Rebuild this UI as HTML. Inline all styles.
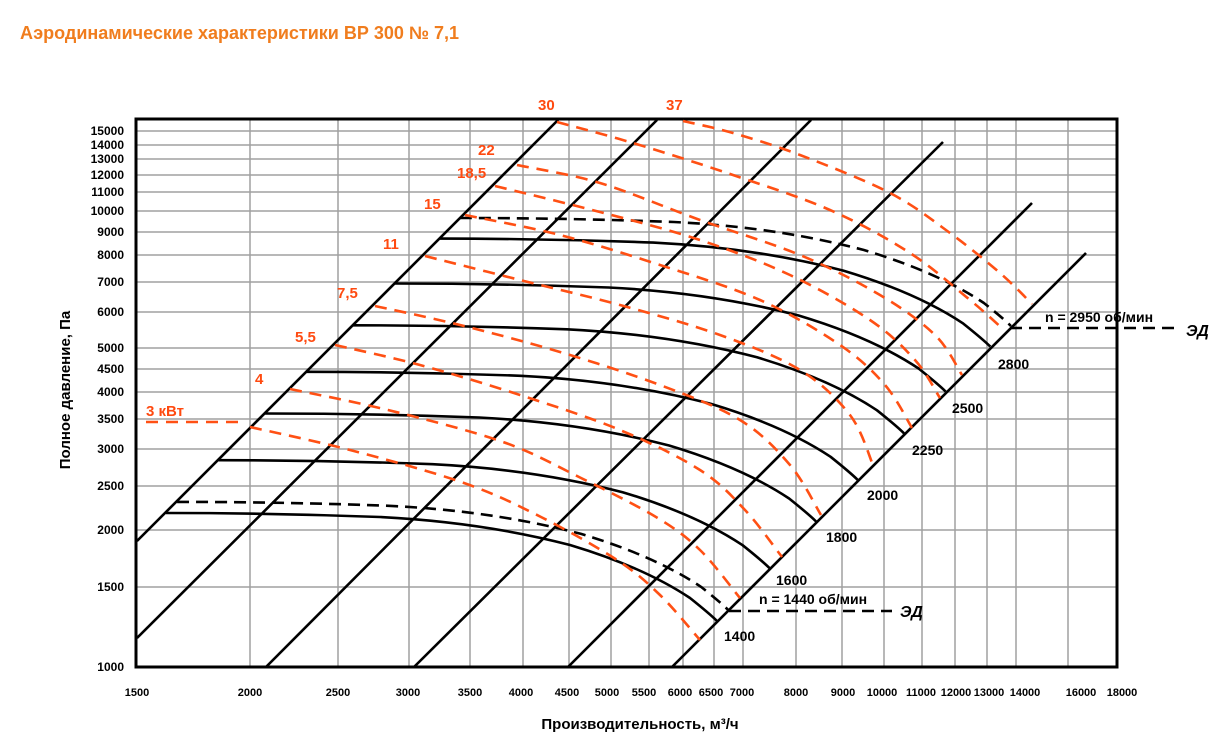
<!DOCTYPE html>
<html><head><meta charset="utf-8"><style>
body{margin:0;background:#fff;}
svg{display:block;font-family:"Liberation Sans",Arial,sans-serif;}
</style></head><body>
<svg id="ch" width="1229" height="756" viewBox="0 0 1229 756" xmlns="http://www.w3.org/2000/svg">
<text x="20" y="39" font-size="18" fill="#f07d1e" font-weight="bold">Аэродинамические характеристики ВР 300 № 7,1</text>
<g stroke="#a0a0a0" stroke-width="1.5">
<line x1="250" y1="119" x2="250" y2="667"/><line x1="338" y1="119" x2="338" y2="667"/>
<line x1="409" y1="119" x2="409" y2="667"/><line x1="470" y1="119" x2="470" y2="667"/>
<line x1="523" y1="119" x2="523" y2="667"/><line x1="569" y1="119" x2="569" y2="667"/>
<line x1="611" y1="119" x2="611" y2="667"/><line x1="649" y1="119" x2="649" y2="667"/>
<line x1="683" y1="119" x2="683" y2="667"/><line x1="714" y1="119" x2="714" y2="667"/>
<line x1="743" y1="119" x2="743" y2="667"/><line x1="796" y1="119" x2="796" y2="667"/>
<line x1="842" y1="119" x2="842" y2="667"/><line x1="884" y1="119" x2="884" y2="667"/>
<line x1="922" y1="119" x2="922" y2="667"/><line x1="955" y1="119" x2="955" y2="667"/>
<line x1="987" y1="119" x2="987" y2="667"/><line x1="1016" y1="119" x2="1016" y2="667"/>
<line x1="1068" y1="119" x2="1068" y2="667"/>
<line x1="136" y1="587" x2="1117" y2="587"/><line x1="136" y1="530" x2="1117" y2="530"/>
<line x1="136" y1="486" x2="1117" y2="486"/><line x1="136" y1="449" x2="1117" y2="449"/>
<line x1="136" y1="419" x2="1117" y2="419"/><line x1="136" y1="392" x2="1117" y2="392"/>
<line x1="136" y1="369" x2="1117" y2="369"/><line x1="136" y1="348" x2="1117" y2="348"/>
<line x1="136" y1="312" x2="1117" y2="312"/><line x1="136" y1="282" x2="1117" y2="282"/>
<line x1="136" y1="255" x2="1117" y2="255"/><line x1="136" y1="232" x2="1117" y2="232"/>
<line x1="136" y1="211" x2="1117" y2="211"/><line x1="136" y1="192" x2="1117" y2="192"/>
<line x1="136" y1="175" x2="1117" y2="175"/><line x1="136" y1="159" x2="1117" y2="159"/>
<line x1="136" y1="145" x2="1117" y2="145"/><line x1="136" y1="131" x2="1117" y2="131"/>
</g>
<rect x="136" y="119" width="981" height="548" fill="none" stroke="#000" stroke-width="3"/>
<g stroke="#000" stroke-width="2.6">
<line x1="137" y1="541" x2="558" y2="120"/>
<line x1="137" y1="638" x2="657" y2="120"/>
<line x1="266" y1="667" x2="811" y2="120"/>
<line x1="414" y1="667" x2="943" y2="142"/>
<line x1="568" y1="667" x2="1032" y2="203"/>
<line x1="672" y1="667" x2="1086" y2="253"/>
</g>
<defs>
<path id="fc" d="M166,513 C230,513 300,514 380,517 C460,521 520,532 570,545 C620,560 660,578 690,598 C700,606 710,614 717,621"/>
</defs>
<g fill="none" stroke="#000" stroke-width="2.6">
<use href="#fc"/>
<use href="#fc" transform="translate(52.6,-52.8)"/>
<use href="#fc" transform="translate(99.1,-99.5)"/>
<use href="#fc" transform="translate(140.6,-141.2)"/>
<use href="#fc" transform="translate(187,-187.7)"/>
<use href="#fc" transform="translate(228.6,-229.5)"/>
<use href="#fc" transform="translate(273.3,-274.4)"/>
</g>
<g fill="none" stroke="#000" stroke-width="2.6" stroke-dasharray="12,7">
<use href="#fc" transform="translate(11.1,-11.1)"/>
<use href="#fc" transform="translate(293.9,-295)"/>
<line x1="729" y1="611" x2="892" y2="611"/>
<line x1="1010" y1="328" x2="1180" y2="328"/>
</g>
<g id="pw" fill="none" stroke="#ff5014" stroke-width="2.6" stroke-dasharray="12,8" stroke-linejoin="round">
<line x1="146" y1="422" x2="240" y2="422"/>
<polyline points="250,427 350,450 464,483 541,517 617,560 660,595 700,640"/>
<polyline points="290,389 388,410 503,442 579,477 656,517 700,550 740,598"/>
<polyline points="335,345 420,365 520,395 620,430 700,470 745,510 782,557"/>
<polyline points="375,306 460,325 560,352 660,385 740,420 790,465 821,515"/>
<polyline points="425,256 520,280 620,305 720,335 800,370 850,415 873,465"/>
<polyline points="465,215 560,235 660,265 760,300 840,345 885,385 912,428"/>
<polyline points="495,186 600,212 700,240 790,275 870,320 915,360 940,398"/>
<polyline points="517,165 600,183 700,220 800,255 880,295 935,335 962,375"/>
<polyline points="557,122 633,143 733,175 830,210 910,253 970,300 1004,330"/>
<polyline points="683,121 733,133 800,155 890,193 950,233 1000,273 1032,304"/>
</g>
<g fill="#ff4a10" font-size="15" font-weight="bold">
<text x="538" y="110">30</text><text x="666" y="110">37</text>
<text x="478" y="155">22</text><text x="457" y="178">18,5</text>
<text x="424" y="209">15</text><text x="383" y="249">11</text>
<text x="337" y="298">7,5</text><text x="295" y="342">5,5</text>
<text x="255" y="384">4</text><text x="146" y="416">3 кВт</text>
</g>
<g font-size="14" font-weight="bold" fill="#000">
<text x="724" y="641">1400</text><text x="776" y="585">1600</text>
<text x="826" y="542">1800</text><text x="867" y="500">2000</text>
<text x="912" y="455">2250</text><text x="952" y="413">2500</text>
<text x="998" y="369">2800</text>
<text x="759" y="604">n = 1440 об/мин</text>
<text x="1045" y="322">n = 2950 об/мин</text>
<text x="900" y="617" font-style="italic" font-size="16">ЭД</text>
<text x="1186" y="336" font-style="italic" font-size="16">ЭД</text>
</g>
<g font-size="12" font-weight="bold" text-anchor="end" fill="#000">
<text x="124" y="671">1000</text><text x="124" y="591">1500</text>
<text x="124" y="534">2000</text><text x="124" y="490">2500</text>
<text x="124" y="453">3000</text><text x="124" y="423">3500</text>
<text x="124" y="396">4000</text><text x="124" y="373">4500</text>
<text x="124" y="352">5000</text><text x="124" y="316">6000</text>
<text x="124" y="286">7000</text><text x="124" y="259">8000</text>
<text x="124" y="236">9000</text><text x="124" y="215">10000</text>
<text x="124" y="196">11000</text><text x="124" y="179">12000</text>
<text x="124" y="163">13000</text><text x="124" y="149">14000</text>
<text x="124" y="135">15000</text>
</g>
<g font-size="11" font-weight="bold" text-anchor="middle" fill="#000">
<text x="137" y="696">1500</text><text x="250" y="696">2000</text>
<text x="338" y="696">2500</text><text x="408" y="696">3000</text>
<text x="470" y="696">3500</text><text x="521" y="696">4000</text>
<text x="567" y="696">4500</text><text x="607" y="696">5000</text>
<text x="644" y="696">5500</text><text x="680" y="696">6000</text>
<text x="711" y="696">6500</text><text x="742" y="696">7000</text>
<text x="796" y="696">8000</text><text x="843" y="696">9000</text>
<text x="882" y="696">10000</text><text x="921" y="696">11000</text>
<text x="956" y="696">12000</text><text x="989" y="696">13000</text>
<text x="1025" y="696">14000</text><text x="1081" y="696">16000</text>
<text x="1122" y="696">18000</text>
</g>
<text x="640" y="729" font-size="15" font-weight="bold" text-anchor="middle">Производительность, м³/ч</text>
<text transform="translate(70,390) rotate(-90)" font-size="15" font-weight="bold" text-anchor="middle">Полное давление, Па</text>
</svg>
<script>
(function(){
var g=document.getElementById('pw');
var pl=g.querySelectorAll('polyline');
for(var i=0;i<pl.length;i++){
 var s=pl[i].getAttribute('points').trim().split(/\s+/).map(function(t){return t.split(',').map(Number);});
 var d='M'+s[0][0]+','+s[0][1];
 for(var k=0;k<s.length-1;k++){
  var p0=s[k-1]||s[k],p1=s[k],p2=s[k+1],p3=s[k+2]||s[k+1];
  var c1x=p1[0]+(p2[0]-p0[0])/6,c1y=p1[1]+(p2[1]-p0[1])/6;
  var c2x=p2[0]-(p3[0]-p1[0])/6,c2y=p2[1]-(p3[1]-p1[1])/6;
  d+=' C'+c1x.toFixed(1)+','+c1y.toFixed(1)+' '+c2x.toFixed(1)+','+c2y.toFixed(1)+' '+p2[0]+','+p2[1];
 }
 var p=document.createElementNS('http://www.w3.org/2000/svg','path');
 p.setAttribute('d',d);
 g.replaceChild(p,pl[i]);
}
})();
</script>
</body></html>
